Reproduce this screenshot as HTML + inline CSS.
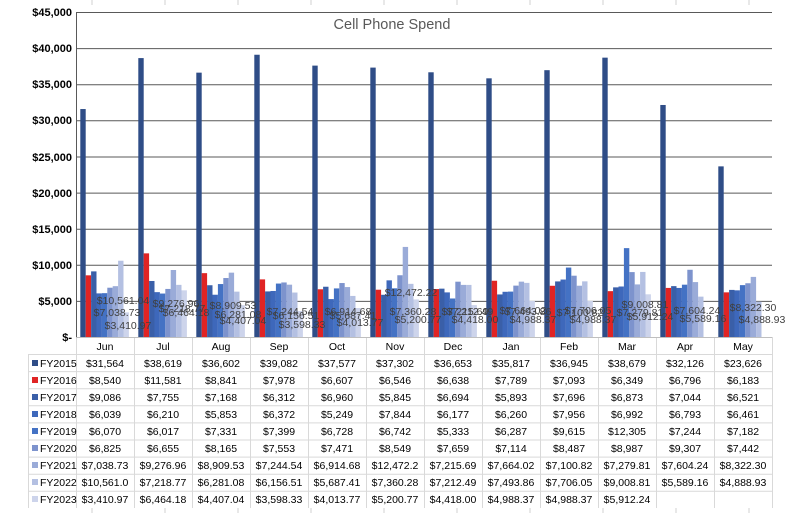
<!DOCTYPE html>
<html><head><meta charset="utf-8"><style>
html,body{margin:0;padding:0;background:#fff;}
svg{display:block;font-family:"Liberation Sans",sans-serif;}
.a{fill:#2f4d87}.b{fill:#e02424}.c{fill:#3a5fa8}.d{fill:#3e68bb}.e{fill:#4472c4}.f{fill:#7d93cd}.g{fill:#9aabd8}.h{fill:#b4c0e2}.i{fill:#cdd4eb}
.yl{font-size:11px;font-weight:bold;text-anchor:end;fill:#000}
.tv{font-size:10.5px;text-anchor:middle;fill:#000}
.dl{font-size:10.5px;text-anchor:middle;fill:#404040}
.ln{font-size:10.5px;fill:#000}
</style></head><body>
<svg width="788" height="513" viewBox="0 0 788 513">
<g stroke="#d0d0d0" stroke-width="1">
<line x1="92" y1="0" x2="92" y2="5"/><line x1="165" y1="0" x2="165" y2="5"/><line x1="238" y1="0" x2="238" y2="5"/><line x1="311" y1="0" x2="311" y2="5"/><line x1="384" y1="0" x2="384" y2="5"/><line x1="457" y1="0" x2="457" y2="5"/><line x1="530" y1="0" x2="530" y2="5"/><line x1="603" y1="0" x2="603" y2="5"/><line x1="676" y1="0" x2="676" y2="5"/><line x1="749" y1="0" x2="749" y2="5"/>
<line x1="92" y1="508" x2="92" y2="513"/><line x1="165" y1="508" x2="165" y2="513"/><line x1="238" y1="508" x2="238" y2="513"/><line x1="311" y1="508" x2="311" y2="513"/><line x1="384" y1="508" x2="384" y2="513"/><line x1="457" y1="508" x2="457" y2="513"/><line x1="530" y1="508" x2="530" y2="513"/><line x1="603" y1="508" x2="603" y2="513"/><line x1="676" y1="508" x2="676" y2="513"/><line x1="749" y1="508" x2="749" y2="513"/>
</g>
<g stroke="#595959" stroke-width="1">
<line x1="76" y1="12.5" x2="772" y2="12.5"/><line x1="76" y1="48.6" x2="772" y2="48.6"/><line x1="76" y1="84.7" x2="772" y2="84.7"/><line x1="76" y1="120.8" x2="772" y2="120.8"/><line x1="76" y1="157" x2="772" y2="157"/><line x1="76" y1="193.1" x2="772" y2="193.1"/><line x1="76" y1="229.2" x2="772" y2="229.2"/><line x1="76" y1="265.3" x2="772" y2="265.3"/><line x1="76" y1="301.4" x2="772" y2="301.4"/>
<line x1="76.5" y1="12" x2="76.5" y2="337"/>
</g>
<g class="yl">
<text x="72" y="16">$45,000</text><text x="72" y="52">$40,000</text><text x="72" y="88">$35,000</text><text x="72" y="124">$30,000</text><text x="72" y="161">$25,000</text><text x="72" y="197">$20,000</text><text x="72" y="233">$15,000</text><text x="72" y="269">$10,000</text><text x="72" y="305">$5,000</text><text x="72" y="341">$-</text>
</g>
<text x="392" y="29" text-anchor="middle" style="font-size:14.5px;fill:#595959">Cell Phone Spend</text>
<g transform="translate(76,337) scale(1,-0.0072222)"><rect class="a" x="4.3" width="5.4" height="31564"/><rect class="b" x="9.7" width="5.4" height="8540"/><rect class="c" x="15.1" width="5.4" height="9086"/><rect class="d" x="20.5" width="5.4" height="6039"/><rect class="e" x="25.9" width="5.4" height="6070"/><rect class="f" x="31.3" width="5.4" height="6825"/><rect class="g" x="36.7" width="5.4" height="7038"/><rect class="h" x="42.1" width="5.4" height="10561"/><rect class="i" x="47.5" width="5.4" height="3411"/></g>
<g transform="translate(134,337) scale(1,-0.0072222)"><rect class="a" x="4.3" width="5.4" height="38619"/><rect class="b" x="9.7" width="5.4" height="11581"/><rect class="c" x="15.1" width="5.4" height="7755"/><rect class="d" x="20.5" width="5.4" height="6210"/><rect class="e" x="25.9" width="5.4" height="6017"/><rect class="f" x="31.3" width="5.4" height="6655"/><rect class="g" x="36.7" width="5.4" height="9277"/><rect class="h" x="42.1" width="5.4" height="7219"/><rect class="i" x="47.5" width="5.4" height="6464"/></g>
<g transform="translate(192,337) scale(1,-0.0072222)"><rect class="a" x="4.3" width="5.4" height="36602"/><rect class="b" x="9.7" width="5.4" height="8841"/><rect class="c" x="15.1" width="5.4" height="7168"/><rect class="d" x="20.5" width="5.4" height="5853"/><rect class="e" x="25.9" width="5.4" height="7331"/><rect class="f" x="31.3" width="5.4" height="8165"/><rect class="g" x="36.7" width="5.4" height="8910"/><rect class="h" x="42.1" width="5.4" height="6281"/><rect class="i" x="47.5" width="5.4" height="4407"/></g>
<g transform="translate(250,337) scale(1,-0.0072222)"><rect class="a" x="4.3" width="5.4" height="39082"/><rect class="b" x="9.7" width="5.4" height="7978"/><rect class="c" x="15.1" width="5.4" height="6312"/><rect class="d" x="20.5" width="5.4" height="6372"/><rect class="e" x="25.9" width="5.4" height="7399"/><rect class="f" x="31.3" width="5.4" height="7553"/><rect class="g" x="36.7" width="5.4" height="7245"/><rect class="h" x="42.1" width="5.4" height="6157"/><rect class="i" x="47.5" width="5.4" height="3598"/></g>
<g transform="translate(308,337) scale(1,-0.0072222)"><rect class="a" x="4.3" width="5.4" height="37577"/><rect class="b" x="9.7" width="5.4" height="6607"/><rect class="c" x="15.1" width="5.4" height="6960"/><rect class="d" x="20.5" width="5.4" height="5249"/><rect class="e" x="25.9" width="5.4" height="6728"/><rect class="f" x="31.3" width="5.4" height="7471"/><rect class="g" x="36.7" width="5.4" height="6915"/><rect class="h" x="42.1" width="5.4" height="5687"/><rect class="i" x="47.5" width="5.4" height="4014"/></g>
<g transform="translate(366,337) scale(1,-0.0072222)"><rect class="a" x="4.3" width="5.4" height="37302"/><rect class="b" x="9.7" width="5.4" height="6546"/><rect class="c" x="15.1" width="5.4" height="5845"/><rect class="d" x="20.5" width="5.4" height="7844"/><rect class="e" x="25.9" width="5.4" height="6742"/><rect class="f" x="31.3" width="5.4" height="8549"/><rect class="g" x="36.7" width="5.4" height="12472"/><rect class="h" x="42.1" width="5.4" height="7360"/><rect class="i" x="47.5" width="5.4" height="5201"/></g>
<g transform="translate(424,337) scale(1,-0.0072222)"><rect class="a" x="4.3" width="5.4" height="36653"/><rect class="b" x="9.7" width="5.4" height="6638"/><rect class="c" x="15.1" width="5.4" height="6694"/><rect class="d" x="20.5" width="5.4" height="6177"/><rect class="e" x="25.9" width="5.4" height="5333"/><rect class="f" x="31.3" width="5.4" height="7659"/><rect class="g" x="36.7" width="5.4" height="7216"/><rect class="h" x="42.1" width="5.4" height="7212"/><rect class="i" x="47.5" width="5.4" height="4418"/></g>
<g transform="translate(482,337) scale(1,-0.0072222)"><rect class="a" x="4.3" width="5.4" height="35817"/><rect class="b" x="9.7" width="5.4" height="7789"/><rect class="c" x="15.1" width="5.4" height="5893"/><rect class="d" x="20.5" width="5.4" height="6260"/><rect class="e" x="25.9" width="5.4" height="6287"/><rect class="f" x="31.3" width="5.4" height="7114"/><rect class="g" x="36.7" width="5.4" height="7664"/><rect class="h" x="42.1" width="5.4" height="7494"/><rect class="i" x="47.5" width="5.4" height="4988"/></g>
<g transform="translate(540,337) scale(1,-0.0072222)"><rect class="a" x="4.3" width="5.4" height="36945"/><rect class="b" x="9.7" width="5.4" height="7093"/><rect class="c" x="15.1" width="5.4" height="7696"/><rect class="d" x="20.5" width="5.4" height="7956"/><rect class="e" x="25.9" width="5.4" height="9615"/><rect class="f" x="31.3" width="5.4" height="8487"/><rect class="g" x="36.7" width="5.4" height="7101"/><rect class="h" x="42.1" width="5.4" height="7706"/><rect class="i" x="47.5" width="5.4" height="4988"/></g>
<g transform="translate(598,337) scale(1,-0.0072222)"><rect class="a" x="4.3" width="5.4" height="38679"/><rect class="b" x="9.7" width="5.4" height="6349"/><rect class="c" x="15.1" width="5.4" height="6873"/><rect class="d" x="20.5" width="5.4" height="6992"/><rect class="e" x="25.9" width="5.4" height="12305"/><rect class="f" x="31.3" width="5.4" height="8987"/><rect class="g" x="36.7" width="5.4" height="7280"/><rect class="h" x="42.1" width="5.4" height="9009"/><rect class="i" x="47.5" width="5.4" height="5912"/></g>
<g transform="translate(656,337) scale(1,-0.0072222)"><rect class="a" x="4.3" width="5.4" height="32126"/><rect class="b" x="9.7" width="5.4" height="6796"/><rect class="c" x="15.1" width="5.4" height="7044"/><rect class="d" x="20.5" width="5.4" height="6793"/><rect class="e" x="25.9" width="5.4" height="7244"/><rect class="f" x="31.3" width="5.4" height="9307"/><rect class="g" x="36.7" width="5.4" height="7604"/><rect class="h" x="42.1" width="5.4" height="5589"/></g>
<g transform="translate(714,337) scale(1,-0.0072222)"><rect class="a" x="4.3" width="5.4" height="23626"/><rect class="b" x="9.7" width="5.4" height="6183"/><rect class="c" x="15.1" width="5.4" height="6521"/><rect class="d" x="20.5" width="5.4" height="6461"/><rect class="e" x="25.9" width="5.4" height="7182"/><rect class="f" x="31.3" width="5.4" height="7442"/><rect class="g" x="36.7" width="5.4" height="8322"/><rect class="h" x="42.1" width="5.4" height="4889"/></g>
<g class="dl">
<text x="123" y="304">$10,561.04</text><text x="117" y="316">$7,038.73</text><text x="128" y="329">$3,410.97</text>
<text x="176" y="307">$9,276.96</text><text x="182" y="312">$7,218.77</text><text x="186" y="316">$6,464.18</text>
<text x="233" y="309">$8,909.53</text><text x="238" y="318">$6,281.08</text><text x="243" y="324">$4,407.04</text>
<text x="290" y="315">$7,244.54</text><text x="296" y="319">$6,156.51</text><text x="302" y="328">$3,598.33</text>
<text x="348" y="315">$6,914.68</text><text x="353" y="319">$5,687.41</text><text x="360" y="326">$4,013.77</text>
<text x="411" y="296">$12,472.22</text><text x="413" y="315">$7,360.28</text><text x="418" y="323">$5,200.77</text>
<text x="465" y="315">$7,215.69</text><text x="470" y="315">$7,212.49</text><text x="475" y="323">$4,418.00</text>
<text x="523" y="314">$7,664.02</text><text x="528" y="315">$7,493.86</text><text x="533" y="323">$4,988.37</text>
<text x="580" y="316">$7,100.82</text><text x="588" y="314">$7,706.05</text><text x="593" y="323">$4,988.37</text>
<text x="640" y="316">$7,279.81</text><text x="645" y="308">$9,008.81</text><text x="650" y="320">$5,912.24</text>
<text x="697" y="314">$7,604.24</text><text x="703" y="322">$5,589.16</text>
<text x="753" y="311">$8,322.30</text><text x="762" y="323">$4,888.93</text>
</g>
<g stroke="#d9d9d9" stroke-width="1">
<line x1="28" y1="354.5" x2="772" y2="354.5"/><line x1="28" y1="371.6" x2="772" y2="371.6"/><line x1="28" y1="388.7" x2="772" y2="388.7"/><line x1="28" y1="405.8" x2="772" y2="405.8"/><line x1="28" y1="422.9" x2="772" y2="422.9"/><line x1="28" y1="440" x2="772" y2="440"/><line x1="28" y1="457.1" x2="772" y2="457.1"/><line x1="28" y1="474.2" x2="772" y2="474.2"/><line x1="28" y1="491.3" x2="772" y2="491.3"/>
<line x1="28.5" y1="354" x2="28.5" y2="508"/><line x1="76.5" y1="337" x2="76.5" y2="508"/><line x1="134.5" y1="337" x2="134.5" y2="508"/><line x1="192.5" y1="337" x2="192.5" y2="508"/><line x1="250.5" y1="337" x2="250.5" y2="508"/><line x1="308.5" y1="337" x2="308.5" y2="508"/><line x1="366.5" y1="337" x2="366.5" y2="508"/><line x1="424.5" y1="337" x2="424.5" y2="508"/><line x1="482.5" y1="337" x2="482.5" y2="508"/><line x1="540.5" y1="337" x2="540.5" y2="508"/><line x1="598.5" y1="337" x2="598.5" y2="508"/><line x1="656.5" y1="337" x2="656.5" y2="508"/><line x1="714.5" y1="337" x2="714.5" y2="508"/><line x1="772.5" y1="337" x2="772.5" y2="508"/>
</g>
<line x1="76" y1="337.5" x2="772" y2="337.5" stroke="#bfbfbf"/>
<g class="tv">
<text x="105" y="350">Jun</text><text x="163" y="350">Jul</text><text x="221" y="350">Aug</text><text x="279" y="350">Sep</text><text x="337" y="350">Oct</text><text x="395" y="350">Nov</text><text x="453" y="350">Dec</text><text x="511" y="350">Jan</text><text x="569" y="350">Feb</text><text x="627" y="350">Mar</text><text x="685" y="350">Apr</text><text x="743" y="350">May</text>
</g>
<rect class="a" x="32" y="360" width="6" height="6"/><rect class="b" x="32" y="377" width="6" height="6"/><rect class="c" x="32" y="394" width="6" height="6"/><rect class="d" x="32" y="411" width="6" height="6"/><rect class="e" x="32" y="428" width="6" height="6"/><rect class="f" x="32" y="445" width="6" height="6"/><rect class="g" x="32" y="462" width="6" height="6"/><rect class="h" x="32" y="479" width="6" height="6"/><rect class="i" x="32" y="496" width="6" height="6"/>
<g class="ln">
<text x="40" y="367">FY2015</text><text x="40" y="384">FY2016</text><text x="40" y="401">FY2017</text><text x="40" y="418">FY2018</text><text x="40" y="435">FY2019</text><text x="40" y="452">FY2020</text><text x="40" y="469">FY2021</text><text x="40" y="486">FY2022</text><text x="40" y="503">FY2023</text>
</g>
<g class="tv">
<text x="105" y="367">$31,564</text><text x="163" y="367">$38,619</text><text x="221" y="367">$36,602</text><text x="279" y="367">$39,082</text><text x="337" y="367">$37,577</text><text x="395" y="367">$37,302</text><text x="453" y="367">$36,653</text><text x="511" y="367">$35,817</text><text x="569" y="367">$36,945</text><text x="627" y="367">$38,679</text><text x="685" y="367">$32,126</text><text x="743" y="367">$23,626</text>
<text x="105" y="384">$8,540</text><text x="163" y="384">$11,581</text><text x="221" y="384">$8,841</text><text x="279" y="384">$7,978</text><text x="337" y="384">$6,607</text><text x="395" y="384">$6,546</text><text x="453" y="384">$6,638</text><text x="511" y="384">$7,789</text><text x="569" y="384">$7,093</text><text x="627" y="384">$6,349</text><text x="685" y="384">$6,796</text><text x="743" y="384">$6,183</text>
<text x="105" y="401">$9,086</text><text x="163" y="401">$7,755</text><text x="221" y="401">$7,168</text><text x="279" y="401">$6,312</text><text x="337" y="401">$6,960</text><text x="395" y="401">$5,845</text><text x="453" y="401">$6,694</text><text x="511" y="401">$5,893</text><text x="569" y="401">$7,696</text><text x="627" y="401">$6,873</text><text x="685" y="401">$7,044</text><text x="743" y="401">$6,521</text>
<text x="105" y="418">$6,039</text><text x="163" y="418">$6,210</text><text x="221" y="418">$5,853</text><text x="279" y="418">$6,372</text><text x="337" y="418">$5,249</text><text x="395" y="418">$7,844</text><text x="453" y="418">$6,177</text><text x="511" y="418">$6,260</text><text x="569" y="418">$7,956</text><text x="627" y="418">$6,992</text><text x="685" y="418">$6,793</text><text x="743" y="418">$6,461</text>
<text x="105" y="435">$6,070</text><text x="163" y="435">$6,017</text><text x="221" y="435">$7,331</text><text x="279" y="435">$7,399</text><text x="337" y="435">$6,728</text><text x="395" y="435">$6,742</text><text x="453" y="435">$5,333</text><text x="511" y="435">$6,287</text><text x="569" y="435">$9,615</text><text x="627" y="435">$12,305</text><text x="685" y="435">$7,244</text><text x="743" y="435">$7,182</text>
<text x="105" y="452">$6,825</text><text x="163" y="452">$6,655</text><text x="221" y="452">$8,165</text><text x="279" y="452">$7,553</text><text x="337" y="452">$7,471</text><text x="395" y="452">$8,549</text><text x="453" y="452">$7,659</text><text x="511" y="452">$7,114</text><text x="569" y="452">$8,487</text><text x="627" y="452">$8,987</text><text x="685" y="452">$9,307</text><text x="743" y="452">$7,442</text>
<text x="105" y="469">$7,038.73</text><text x="163" y="469">$9,276.96</text><text x="221" y="469">$8,909.53</text><text x="279" y="469">$7,244.54</text><text x="337" y="469">$6,914.68</text><text x="395" y="469">$12,472.2</text><text x="453" y="469">$7,215.69</text><text x="511" y="469">$7,664.02</text><text x="569" y="469">$7,100.82</text><text x="627" y="469">$7,279.81</text><text x="685" y="469">$7,604.24</text><text x="743" y="469">$8,322.30</text>
<text x="105" y="486">$10,561.0</text><text x="163" y="486">$7,218.77</text><text x="221" y="486">$6,281.08</text><text x="279" y="486">$6,156.51</text><text x="337" y="486">$5,687.41</text><text x="395" y="486">$7,360.28</text><text x="453" y="486">$7,212.49</text><text x="511" y="486">$7,493.86</text><text x="569" y="486">$7,706.05</text><text x="627" y="486">$9,008.81</text><text x="685" y="486">$5,589.16</text><text x="743" y="486">$4,888.93</text>
<text x="105" y="503">$3,410.97</text><text x="163" y="503">$6,464.18</text><text x="221" y="503">$4,407.04</text><text x="279" y="503">$3,598.33</text><text x="337" y="503">$4,013.77</text><text x="395" y="503">$5,200.77</text><text x="453" y="503">$4,418.00</text><text x="511" y="503">$4,988.37</text><text x="569" y="503">$4,988.37</text><text x="627" y="503">$5,912.24</text>
</g>
</svg>
</body></html>
